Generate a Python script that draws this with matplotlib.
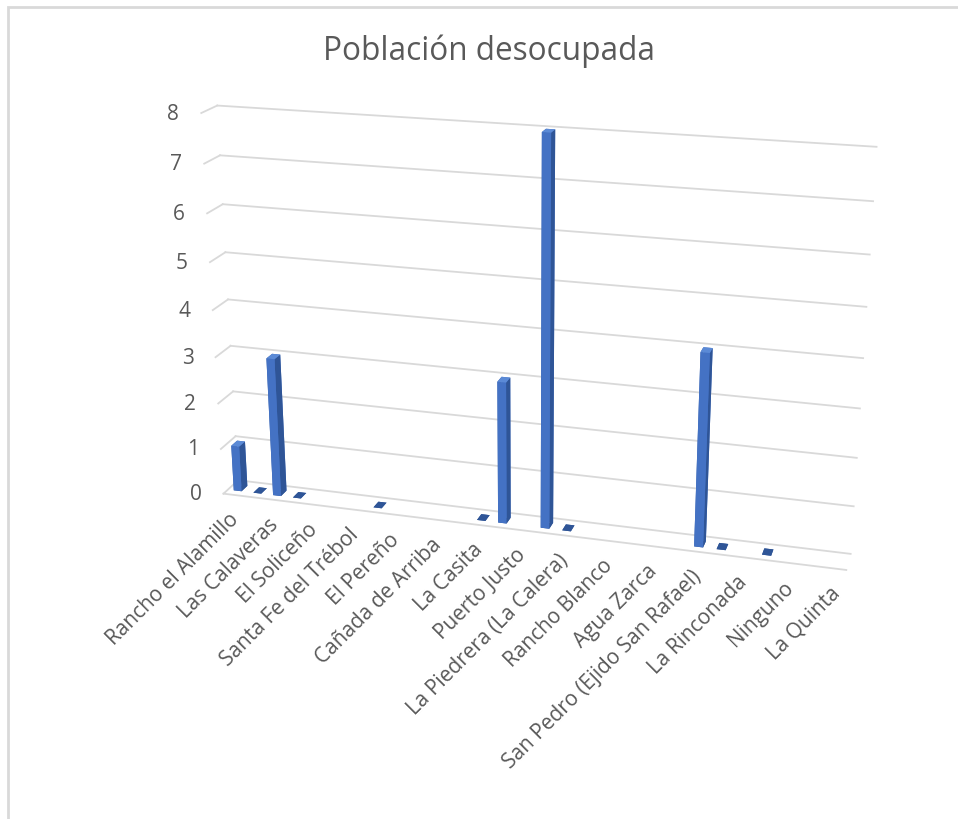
import numpy as np
import matplotlib.pyplot as plt
from matplotlib.patches import Rectangle
from mpl_toolkits.mplot3d import proj3d

plt.rcParams['font.family'] = ['Open Sans', 'DejaVu Sans']

nan = np.nan

# Excel solo muestra una etiqueta de cada dos categorías
etiquetas = ['Rancho el Alamillo', 'Las Calaveras', 'El Soliceño', 'Santa Fe del Trébol',
             'El Pereño', 'Cañada de Arriba', 'La Casita', 'Puerto Justo',
             'La Piedrera (La Calera)', 'Rancho Blanco', 'Agua Zarca',
             'San Pedro (Ejido San Rafael)', 'La Rinconada', 'Ninguno', 'La Quinta']
pos_etiquetas = list(range(0, 29, 2))

# población desocupada por categoría (nan = celda vacía)
valores = [1, 0, 3, 0, nan, nan, nan, 0, nan, nan, nan, nan, 0, 3, nan,
           8, 0, nan, nan, nan, nan, nan, 4, 0, nan, 0, nan, nan, nan]
niveles = list(range(0, 9))

gris = '#d9d9d9'
texto = '#595959'

fig = plt.figure(figsize=(9.58, 8.2), dpi=100)
ax = fig.add_axes([0.048, 0.12, 0.98, 0.92], projection='3d', computed_zorder=False)
ax.set_proj_type('persp', focal_length=0.45)
ax.view_init(elev=19, azim=-74)
ax.set_box_aspect((16, 0.9, 10), zoom=1.01)
ax.set_axis_off()

n = len(valores)
x0, x1 = -0.5, n - 0.5

# líneas de división en pared del fondo y pared lateral
for z in niveles:
    ax.plot([x0, x1], [1, 1], [z, z], color=gris, lw=1.3, zorder=1)
    ax.plot([x0, x0], [0, 1], [z, z], color=gris, lw=1.3, zorder=1)
# borde frontal del piso
ax.plot([x0, x1], [0, 0], [0, 0], color=gris, lw=1.3, zorder=1)

caras = ['#2F5597', '#5B8AD6', '#4472C4', '#4472C4', '#3A64AE', '#2F5597']
caras_cero = ['#2F5597'] * 6
ancho = 0.4
for i, v in enumerate(valores):
    if np.isnan(v):
        continue
    ax.bar3d(i - ancho / 2, 0.3, 0, ancho, 0.4, v,
             color=caras if v > 0 else caras_cero, shade=False, zorder=3)

ax.set_xlim(x0, x1)
ax.set_ylim(0, 1)
ax.set_zlim(0, 8)

M = ax.get_proj()
for z in niveles:
    px, py, _ = proj3d.proj_transform(x0, 0, z, M)
    ax.annotate(str(z), xy=(px, py), xytext=(-22, 0), textcoords='offset pixels',
                ha='right', va='center', fontsize=15, color=texto)

for pos, nombre in zip(pos_etiquetas, etiquetas):
    px, py, _ = proj3d.proj_transform(pos, 0, 0, M)
    ax.annotate(nombre, xy=(px, py), xytext=(2, -21), textcoords='offset pixels',
                rotation=45, rotation_mode='anchor', ha='right', va='center',
                fontsize=15, color=texto)

fig.text(0.51, 0.937, 'Población desocupada', ha='center', va='center',
         fontsize=22.7, color=texto)

fig.add_artist(Rectangle((0.008, -0.1), 1.2, 1.09, transform=fig.transFigure,
                         fill=False, ec=gris, lw=2))

fig.savefig('out.png', dpi=100)
